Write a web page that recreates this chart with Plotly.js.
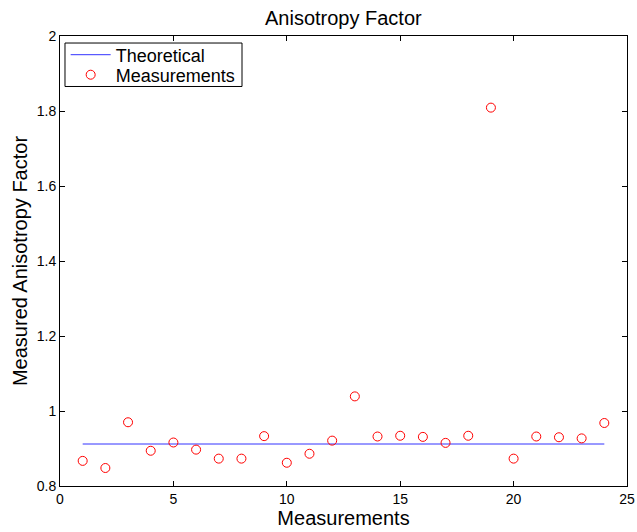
<!DOCTYPE html>
<html><head><meta charset="utf-8">
<script src="https://cdn.plot.ly/plotly-3.0.1.min.js"></script>
<style>html,body{margin:0;padding:0;background:#fff}#chart{width:637px;height:532px}</style>
</head><body><div id="chart"></div>
<script>
var measurementIndex = [1,2,3,4,5,6,7,8,9,10,11,12,13,14,15,16,17,18,19,20,21,22,23,24];
var measuredValues = [0.867,0.848,0.970,0.894,0.916,0.897,0.873,0.873,0.933,0.862,0.886,0.921,1.039,0.932,0.934,0.931,0.915,0.934,1.809,0.873,0.932,0.930,0.927,0.968];
var theoreticalX = [1,24];
var theoreticalY = [0.912,0.912];
var xTicks = [0,5,10,15,20,25];
var yTicks = [0.8,1,1.2,1.4,1.6,1.8,2];
var yTickText = ['0.8','1','1.2','1.4','1.6','1.8','2'];

var font = 'Liberation Sans, Arial, sans-serif';
var traces = [
  {x: theoreticalX, y: theoreticalY, mode:'lines', name:'Theoretical', legend:'legend',
   line:{color:'#3333ff', width:1}},
  {x: measurementIndex, y: measuredValues, mode:'markers', name:'Measurements', legend:'legend2',
   marker:{symbol:'circle-open', color:'#ff0000', size:9, line:{width:1, color:'#ff0000'}}}
];
var axisCommon = {showgrid:false, zeroline:false, showline:true, linecolor:'#000', linewidth:1,
  mirror:'ticks', ticks:'inside', ticklen:5, tickcolor:'#000', tickfont:{family:font, size:14, color:'#000'}};
var legendCommon = {xanchor:'left', yanchor:'middle', bgcolor:'rgba(0,0,0,0)', borderwidth:0,
  font:{family:font, size:18, color:'#000'}, itemwidth:40};
var layout = {
  width:637, height:532,
  margin:{l:60, r:10, t:36, b:46},
  paper_bgcolor:'#fff', plot_bgcolor:'#fff',
  font:{family:font, color:'#000'},
  title:{text:'Anisotropy Factor', font:{family:font, size:20, color:'#000'}, x:0.539, xanchor:'center', y:0.967, yanchor:'middle'},
  xaxis:Object.assign({}, axisCommon, {range:[0,25], tickvals:xTicks, ticktext:xTicks.map(String),
    title:{text:'Measurements', font:{family:font, size:20, color:'#000'}, standoff:0}}),
  yaxis:Object.assign({}, axisCommon, {range:[0.8,2], tickvals:yTicks, ticktext:yTickText,
    title:{text:'Measured Anisotropy Factor', font:{family:font, size:20, color:'#000'}, standoff:3}}),
  showlegend:true,
  legend:Object.assign({}, legendCommon, {x:0.01, y:0.9578}),
  legend2:Object.assign({}, legendCommon, {x:0.01, y:0.9133}),
  shapes:[{type:'rect', xref:'paper', yref:'paper', x0:0.0088, x1:0.321, y0:0.8878, y1:0.9844,
    line:{color:'#000', width:1}, fillcolor:'rgba(0,0,0,0)', layer:'above'}]
};
Plotly.newPlot('chart', traces, layout, {displayModeBar:false, staticPlot:true});
</script></body></html>
